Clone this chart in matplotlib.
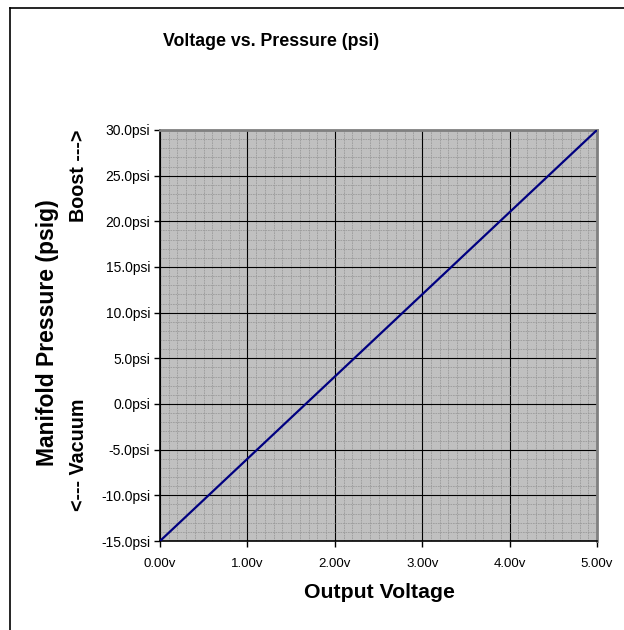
import matplotlib
matplotlib.use("Agg")
import matplotlib.pyplot as plt
from matplotlib.lines import Line2D
from matplotlib.ticker import MultipleLocator, FuncFormatter
import numpy as np

# sensor output (volts) vs manifold pressure (psig)
voltage = [0.0, 1.0, 2.0, 3.0, 4.0, 5.0]
pressure = [-15.0, -6.0, 3.0, 12.0, 21.0, 30.0]

plt.rcParams['font.family'] = ['Liberation Sans', 'DejaVu Sans']

fig = plt.figure(figsize=(6.24, 6.3), dpi=100)
ax = fig.add_axes([160 / 624, 89 / 630, 437 / 624, 411 / 630])

ax.set_facecolor("#c0c0c0")
ax.plot(voltage, pressure, color="#000080", linewidth=1.6, zorder=3)

ax.set_xlim(0, 5)
ax.set_ylim(-15, 30)
ax.xaxis.set_major_locator(MultipleLocator(1))
ax.xaxis.set_minor_locator(MultipleLocator(0.1))
ax.yaxis.set_major_locator(MultipleLocator(5))
ax.yaxis.set_minor_locator(MultipleLocator(1))
ax.xaxis.set_major_formatter(FuncFormatter(lambda v, p: f"{v:.2f}v"))
ax.yaxis.set_major_formatter(FuncFormatter(lambda v, p: f"{v:.1f}psi"))

ax.grid(which="minor", color="#9a9a9a", linestyle=(0, (2, 1)), linewidth=0.6)
ax.grid(which="major", color="black", linestyle="-", linewidth=0.8)
ax.set_axisbelow(True)

ax.tick_params(axis="both", which="major", direction="out", length=4, width=1, pad=3, colors="black")
ax.tick_params(axis="y", labelsize=10)
ax.tick_params(axis="x", labelsize=9.5, pad=8)
ax.tick_params(axis="both", which="minor", length=0)

ax.spines["left"].set_linewidth(1.2)
ax.spines["bottom"].set_linewidth(1.2)
for s in ["top", "right"]:
    ax.spines[s].set_color("#808080")
    ax.spines[s].set_linewidth(2)

fig.text(271 / 624, 1 - 42 / 630, "Voltage vs. Pressure (psi)", ha="center", va="center", fontsize=12.8, fontweight="bold")
fig.text(379 / 624, 1 - 593 / 630, "Output Voltage", ha="center", va="center", fontsize=15.3, fontweight="bold")
fig.text(48 / 624, 1 - 333 / 630, "Manifold Pressure (psig)", ha="center", va="center", rotation=90, fontsize=16.5, fontweight="bold")
fig.text(78 / 624, 1 - 176 / 630, "Boost --->", ha="center", va="center", rotation=90, fontsize=14.2, fontweight="bold")
fig.text(78 / 624, 1 - 455 / 630, "<--- Vacuum", ha="center", va="center", rotation=90, fontsize=14.2, fontweight="bold")

# chart-area border (cropped on right and bottom)
fig.add_artist(Line2D([10 / 624, 10 / 624], [0, 1 - 8 / 630], color="black", linewidth=1.2))
fig.add_artist(Line2D([10 / 624, 1], [1 - 8 / 630, 1 - 8 / 630], color="black", linewidth=1.2))

fig.savefig("out.png", dpi=100)
